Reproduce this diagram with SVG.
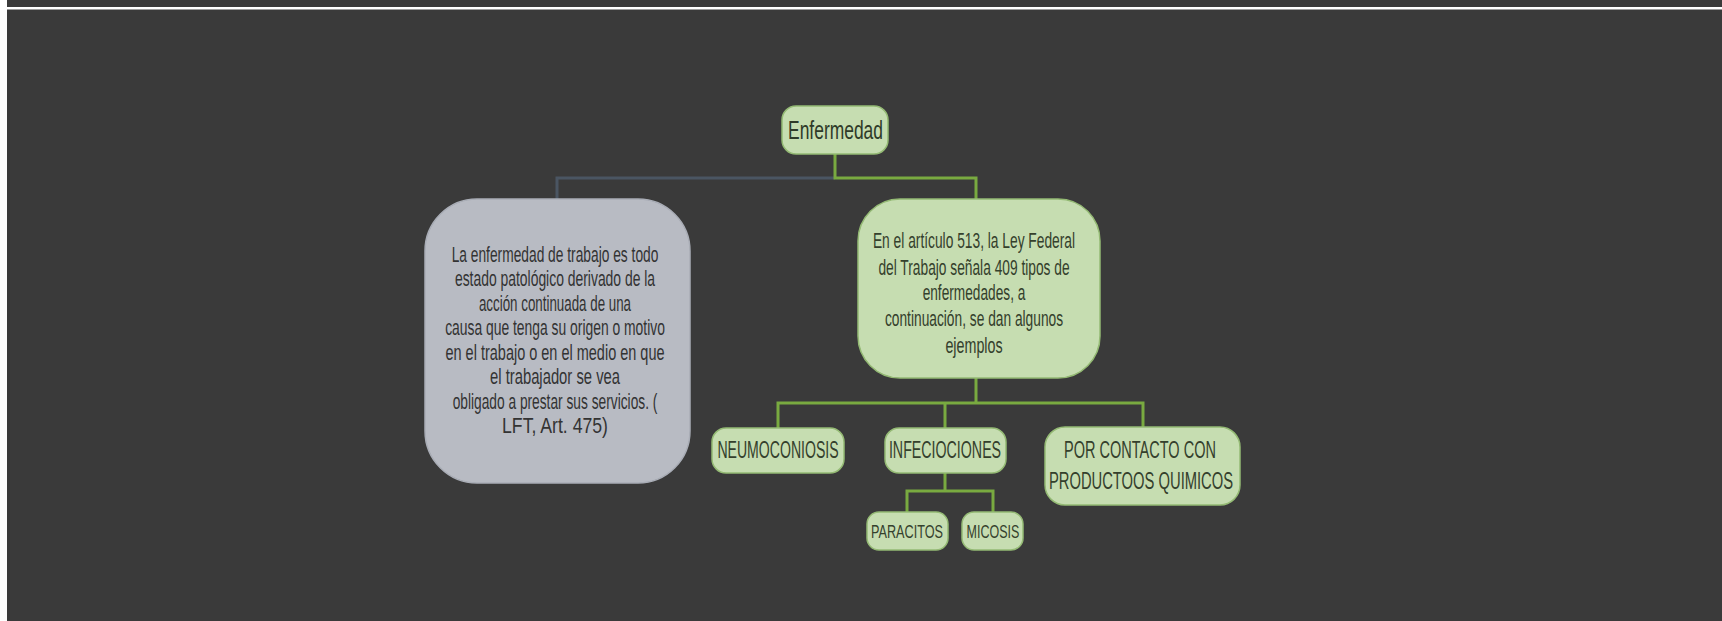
<svg xmlns="http://www.w3.org/2000/svg" width="1722" height="621" viewBox="0 0 1722 621">
<style>
.bg{fill:#3a3a3a}
.gn{fill:#c6ddb1;stroke:#94ba74;stroke-width:1.5}
.gy{fill:#b8bbc3;stroke:#a9adb6;stroke-width:1.5}
.t{font-family:"Liberation Sans",Arial,sans-serif;text-anchor:middle}
.tl{font-size:22px;fill:#333333}
.tr{font-size:22px;fill:#34402c}
.tb{font-size:24px;fill:#34402c}
.ts{font-size:19px;fill:#34402c}
.c{fill:none;stroke:#79aa40;stroke-width:3}
.cg{fill:none;stroke:#4a5562;stroke-width:3}
</style>
<rect class="bg" x="0" y="0" width="1722" height="621"/>
<rect x="0" y="7" width="1722" height="2.5" fill="#ffffff"/>
<rect x="0" y="0" width="7" height="621" fill="#ffffff"/>

<g id="connectors">
  <path class="cg" d="M557,200 V178 H835"/>
  <path class="c" d="M835,154 V178 H976 V200"/>
  <path class="c" d="M976,378 V403"/>
  <path class="c" d="M778,428 V403 H1143 V427"/>
  <path class="c" d="M945,403 V428"/>
  <path class="c" d="M945,473 V491"/>
  <path class="c" d="M907,512 V491 H993 V512"/>
</g>

<g id="node-enfermedad">
  <rect class="gn" x="782" y="106" width="106" height="48" rx="14"/>
  <text class="t" transform="translate(835.5,139) scale(0.65,1)" font-size="25" fill="#2e3a28" textLength="146" lengthAdjust="spacingAndGlyphs">Enfermedad</text>
</g>

<g id="node-definicion">
  <rect class="gy" x="425" y="199" width="265" height="284" rx="52"/>
  <text class="t tl" transform="translate(555,262) scale(0.65,1)" textLength="318" lengthAdjust="spacingAndGlyphs">La enfermedad de trabajo es todo</text>
  <text class="t tl" transform="translate(555,286) scale(0.65,1)" textLength="308" lengthAdjust="spacingAndGlyphs">estado patológico derivado de la</text>
  <text class="t tl" transform="translate(555,311) scale(0.65,1)" textLength="234" lengthAdjust="spacingAndGlyphs">acción continuada de una</text>
  <text class="t tl" transform="translate(555,335) scale(0.65,1)" textLength="338" lengthAdjust="spacingAndGlyphs">causa que tenga su origen o motivo</text>
  <text class="t tl" transform="translate(555,360) scale(0.65,1)" textLength="337" lengthAdjust="spacingAndGlyphs">en el trabajo o en el medio en que</text>
  <text class="t tl" transform="translate(555,384) scale(0.65,1)" textLength="200" lengthAdjust="spacingAndGlyphs">el trabajador se vea</text>
  <text class="t tl" transform="translate(555,409) scale(0.65,1)" textLength="315" lengthAdjust="spacingAndGlyphs">obligado a prestar sus servicios. (</text>
  <text class="t tl" transform="translate(555,433) scale(0.65,1)" textLength="163" lengthAdjust="spacingAndGlyphs">LFT, Art. 475)</text>
</g>

<g id="node-articulo">
  <rect class="gn" x="858" y="199" width="242" height="179" rx="42"/>
  <text class="t tr" transform="translate(974,248) scale(0.65,1)" textLength="311" lengthAdjust="spacingAndGlyphs">En el artículo 513, la Ley Federal</text>
  <text class="t tr" transform="translate(974,274.5) scale(0.65,1)" textLength="294" lengthAdjust="spacingAndGlyphs">del Trabajo señala 409 tipos de</text>
  <text class="t tr" transform="translate(974,299.5) scale(0.65,1)" textLength="158" lengthAdjust="spacingAndGlyphs">enfermedades, a</text>
  <text class="t tr" transform="translate(974,326) scale(0.65,1)" textLength="274" lengthAdjust="spacingAndGlyphs">continuación, se dan algunos</text>
  <text class="t tr" transform="translate(974,353) scale(0.65,1)" textLength="88" lengthAdjust="spacingAndGlyphs">ejemplos</text>
</g>

<g id="node-neumoconiosis">
  <rect class="gn" x="712" y="428" width="132" height="45" rx="14"/>
  <text class="t tb" transform="translate(778,458) scale(0.6,1)" textLength="202" lengthAdjust="spacingAndGlyphs">NEUMOCONIOSIS</text>
</g>

<g id="node-infeciociones">
  <rect class="gn" x="885" y="428" width="121" height="45" rx="14"/>
  <text class="t tb" transform="translate(945,458) scale(0.6,1)" textLength="187" lengthAdjust="spacingAndGlyphs">INFECIOCIONES</text>
</g>

<g id="node-contacto">
  <rect class="gn" x="1045" y="427" width="195" height="78" rx="20"/>
  <text class="t tb" transform="translate(1140,458) scale(0.6,1)" textLength="253" lengthAdjust="spacingAndGlyphs">POR CONTACTO CON</text>
  <text class="t tb" transform="translate(1141,489) scale(0.6,1)" textLength="307" lengthAdjust="spacingAndGlyphs">PRODUCTOOS QUIMICOS</text>
</g>

<g id="node-paracitos">
  <rect class="gn" x="867" y="512" width="81" height="38" rx="12"/>
  <text class="t ts" transform="translate(907,538) scale(0.6,1)" textLength="120" lengthAdjust="spacingAndGlyphs">PARACITOS</text>
</g>

<g id="node-micosis">
  <rect class="gn" x="962" y="512" width="61" height="38" rx="12"/>
  <text class="t ts" transform="translate(993,538) scale(0.6,1)" textLength="88" lengthAdjust="spacingAndGlyphs">MICOSIS</text>
</g>
</svg>
